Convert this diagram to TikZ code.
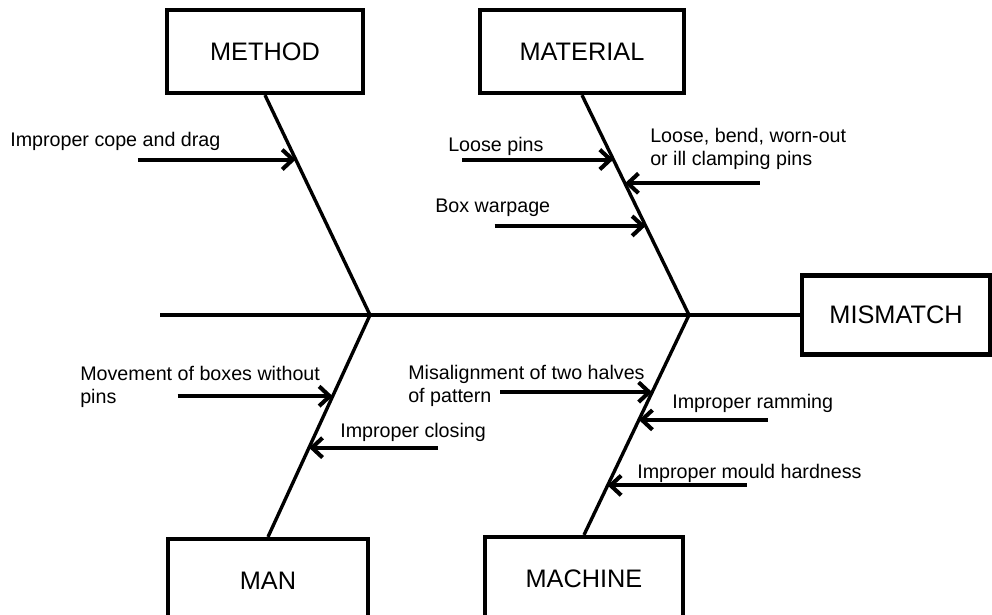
\documentclass[tikz,border=0pt]{standalone}
\usepackage{fontspec}
\setmainfont{Liberation Sans}
\usetikzlibrary{arrows.meta,calc}
\begin{document}
\begin{tikzpicture}[x=0.025cm, y=-0.025cm,
    catbox/.style={draw, line width=3pt, minimum height=2.075cm, font=\fontsize{18}{22}\selectfont},
    bone/.style={line width=2.4pt},
    cause/.style={line width=2.9pt, -{Straight Barb[length=7.5pt,width=14pt]}},
    why/.style={anchor=base west, inner sep=0pt, align=left, font=\fontsize{14}{16}\selectfont}]
    \useasboundingbox (0,0) rectangle (992,614);
    \node[catbox, minimum width=4.9cm] (method) at (265,51.5) {METHOD};
    \node[catbox, minimum width=5.1cm] (material) at (582,51.5) {MATERIAL};
    \node[catbox, minimum width=5cm] (man) at (268,580.5) {MAN};
    \node[catbox, minimum width=4.95cm] (machine) at (584,578.5) {MACHINE};
    \node[catbox, minimum width=4.7cm, minimum height=1.975cm] (mismatch) at (896,315) {MISMATCH};
    \coordinate (tail) at (160,315);
    \coordinate (j1) at (370,315);
    \coordinate (j2) at (689,315);
    \draw[bone] (tail) -- (mismatch);
    \draw[bone] (method.south) -- (j1) -- (man.north);
    \draw[bone] (material.south) -- (j2) -- (machine.north);
    \coordinate (m1) at ($(method.south)!0.293!(j1)$);
    \coordinate (t1) at ($(material.south)!0.293!(j2)$);
    \coordinate (t2) at ($(material.south)!0.401!(j2)$);
    \coordinate (t3) at ($(material.south)!0.595!(j2)$);
    \coordinate (p1) at ($(j1)!0.366!(man.north)$);
    \coordinate (p2) at ($(j1)!0.598!(man.north)$);
    \coordinate (c1) at ($(j2)!0.351!(machine.north)$);
    \coordinate (c2) at ($(j2)!0.477!(machine.north)$);
    \coordinate (c3) at ($(j2)!0.775!(machine.north)$);
    \path (m1) ++(-158,0) coordinate (m1s);
    \path (t1) ++(-151,0) coordinate (t1s);
    \path (t2) ++(135,0) coordinate (t2s);
    \path (t3) ++(-151,0) coordinate (t3s);
    \path (p1) ++(-155,0) coordinate (p1s);
    \path (p2) ++(129,0) coordinate (p2s);
    \path (c1) ++(-152,0) coordinate (c1s);
    \path (c2) ++(129,0) coordinate (c2s);
    \path (c3) ++(139,0) coordinate (c3s);
    \draw[cause] (m1s) -- (m1);
    \draw[cause] (t1s) -- (t1);
    \draw[cause] (t2s) -- (t2);
    \draw[cause] (t3s) -- (t3);
    \draw[cause] (p1s) -- (p1);
    \draw[cause] (p2s) -- (p2);
    \draw[cause] (c1s) -- (c1);
    \draw[cause] (c2s) -- (c2);
    \draw[cause] (c3s) -- (c3);
    \node[why] (m1l) at (10,146) {Improper cope and drag};
    \node[why] (t1l) at (448,151) {Loose pins};
    \node[why] (t2l) at (650,165) {Loose, bend, worn-out\\or ill clamping pins};
    \node[why] (t3l) at (435,212) {Box warpage};
    \node[why] (p1l) at (80,403) {Movement of boxes without\\pins};
    \node[why] (p2l) at (340,437) {Improper closing};
    \node[why] (c1l) at (408,402) {Misalignment of two halves\\of pattern};
    \node[why] (c2l) at (672,408) {Improper ramming};
    \node[why] (c3l) at (637,478) {Improper mould hardness};
\end{tikzpicture}
\end{document}
